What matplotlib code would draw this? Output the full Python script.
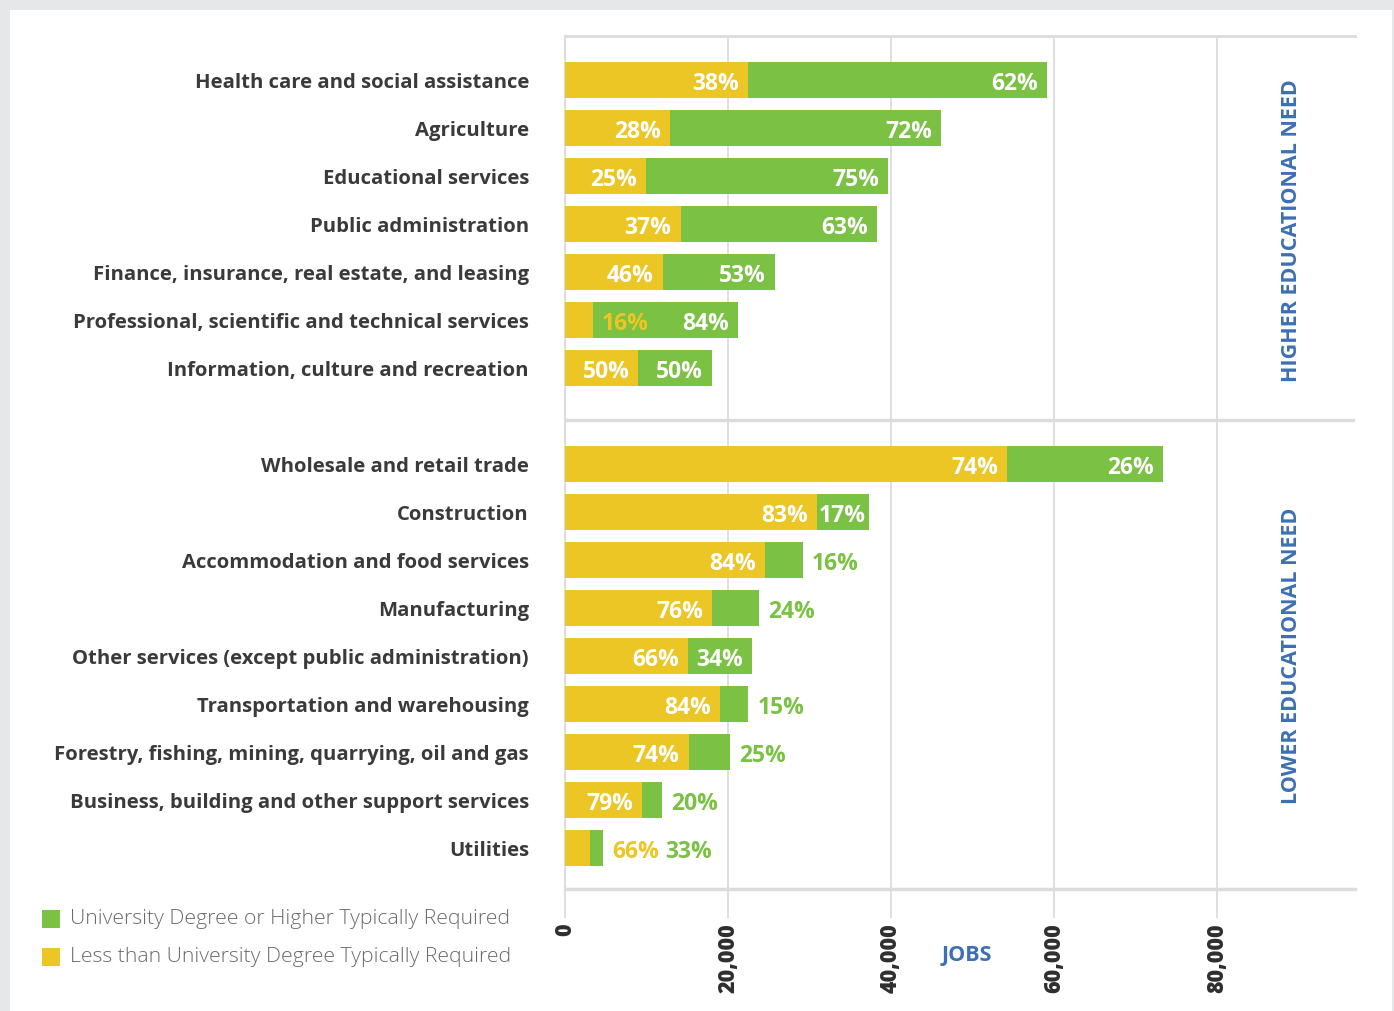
import numpy as np
import matplotlib
matplotlib.use("Agg")
import matplotlib.pyplot as plt
from matplotlib.patches import Rectangle
import matplotlib.transforms as mtransforms

plt.rcParams['font.family'] = ['Open Sans', 'DejaVu Sans']

# industries, top group = higher educational need, bottom group = lower
higher = ['Health care and social assistance', 'Agriculture', 'Educational services',
          'Public administration', 'Finance, insurance, real estate, and leasing',
          'Professional, scientific and technical services',
          'Information, culture and recreation']
lower = ['Wholesale and retail trade', 'Construction', 'Accommodation and food services',
         'Manufacturing', 'Other services (except public administration)',
         'Transportation and warehousing',
         'Forestry, fishing, mining, quarrying, oil and gas',
         'Business, building and other support services', 'Utilities']

# total jobs per industry
jobs_higher = [59150, 46100, 39600, 38300, 26000, 21200, 18000]
jobs_lower = [73300, 37300, 29200, 23800, 22900, 22700, 20500, 12000, 4700]

# share of jobs: less than university degree / university degree or higher
pct_low_higher = [38, 28, 25, 37, 46, 16, 50]
pct_high_higher = [62, 72, 75, 63, 53, 84, 50]
pct_low_lower = [74, 83, 84, 76, 66, 84, 74, 79, 66]
pct_high_lower = [26, 17, 16, 24, 34, 15, 25, 20, 33]

xticks = [0, 20000, 40000, 60000, 80000]

YELLOW = '#ecc625'
GREEN = '#7bc143'
BLUE = '#3d6fb4'
DARK = '#3a3a3a'
GRID = '#d9d9d9'

categories = higher + lower
jobs = np.array(jobs_higher + jobs_lower, dtype=float)
p_low = np.array(pct_low_higher + pct_low_lower)
p_high = np.array(pct_high_higher + pct_high_lower)
ypos = np.array(list(range(len(higher))) + list(range(len(higher) + 1, len(higher) + 1 + len(lower))))

low = jobs * p_low / 100
high = jobs * p_high / 100

# how each label sits: 'in' = white, right aligned inside the segment
low_mode = ['in'] * len(categories)
high_mode = ['in'] * len(categories)
low_mode[5] = 'over'
high_mode[8] = 'start'
for i in [9, 10, 12, 13, 14]:
    high_mode[i] = 'out'
low_mode[15] = 'out'
high_mode[15] = 'after'

fig = plt.figure(figsize=(13.94, 10.11), dpi=100, facecolor='#e6e7e9')
fig.patches.append(Rectangle((10 / 1394, 0), 1382 / 1394, 1 - 10 / 1011,
                             transform=fig.transFigure, facecolor='white',
                             edgecolor='none', zorder=-5))

ax = fig.add_axes([565 / 1394, 1 - 889 / 1011, 790 / 1394, 853 / 1011])
ax.set_facecolor('none')

ax.barh(ypos, low, height=0.75, color=YELLOW, zorder=3)
ax.barh(ypos, high, left=low, height=0.75, color=GREEN, zorder=3)

ax.set_xlim(0, 96900)
ax.set_ylim(16.854, -0.917)

lab = dict(fontsize=16.5, fontweight='bold', va='center_baseline', zorder=5)
pad = 6.5
dy = -0.5
for i, y in enumerate(ypos):
    lo_txt = f'{p_low[i]}%'
    hi_txt = f'{p_high[i]}%'
    end_lo = low[i]
    end_hi = low[i] + high[i]
    m = low_mode[i]
    if m == 'in':
        ax.annotate(lo_txt, (end_lo, y), xytext=(-pad, dy), textcoords='offset points',
                    color='white', ha='right', **lab)
    elif m == 'over':
        ax.annotate(lo_txt, (end_lo, y), xytext=(pad, dy), textcoords='offset points',
                    color=YELLOW, ha='left', **lab)
    elif m == 'out':
        ax.annotate(lo_txt, (end_hi, y), xytext=(pad, dy), textcoords='offset points',
                    color=YELLOW, ha='left', **lab)
    m = high_mode[i]
    if m == 'in':
        ax.annotate(hi_txt, (end_hi, y), xytext=(-pad, dy), textcoords='offset points',
                    color='white', ha='right', **lab)
    elif m == 'start':
        ax.annotate(hi_txt, (end_lo, y), xytext=(1.2, dy), textcoords='offset points',
                    color='white', ha='left', **lab)
    elif m == 'out':
        ax.annotate(hi_txt, (end_hi, y), xytext=(pad, dy), textcoords='offset points',
                    color=GREEN, ha='left', **lab)
    elif m == 'after':
        ax.annotate(hi_txt, (end_hi, y), xytext=(44.5, dy), textcoords='offset points',
                    color=GREEN, ha='left', **lab)

# category names
ax.set_yticks(ypos)
ax.set_yticklabels(categories, fontsize=14.6, fontweight='bold', color=DARK)
ax.tick_params(axis='y', length=0, pad=26)

# jobs axis
ax.set_xticks(xticks)
ax.set_xticklabels([f'{v:,}' for v in xticks], rotation=90, fontsize=15.5,
                   fontweight='heavy', color='#2e2e2e', va='top')
ax.tick_params(axis='x', length=21, width=1.2, color=GRID, pad=4)
ax.xaxis.grid(True, color=GRID, lw=1.2, zorder=0)
ax.set_axisbelow(True)

ax.spines['right'].set_visible(False)
ax.spines['left'].set_color(GRID)
ax.spines['left'].set_linewidth(1.2)
ax.spines['top'].set_color('#dcdcdc')
ax.spines['top'].set_linewidth(2)
ax.spines['bottom'].set_color('#dcdcdc')
ax.spines['bottom'].set_linewidth(2.5)
ax.axhline(len(higher) + 0.08, color='#dcdcdc', lw=2.5, zorder=1)

# group labels on the right
trans = mtransforms.blended_transform_factory(ax.transAxes, ax.transData)
ax.text(0.92, 3.13, 'HIGHER EDUCATIONAL NEED', transform=trans, rotation=90,
        ha='center', va='center', fontsize=15.5, fontweight='bold', color=BLUE)
ax.text(0.92, 12.0, 'LOWER EDUCATIONAL NEED', transform=trans, rotation=90,
        ha='center', va='center', fontsize=15.5, fontweight='bold', color=BLUE)

fig.text(967 / 1394, 1 - 955 / 1011, 'JOBS', ha='center', va='center',
         fontsize=15.5, fontweight='bold', color=BLUE)

# legend
legend_items = [('University Degree or Higher Typically Required', GREEN),
                ('Less than University Degree Typically Required', YELLOW)]
for k, (name, col) in enumerate(legend_items):
    yc = 919 + 38 * k
    fig.patches.append(Rectangle((42 / 1394, 1 - (yc + 9) / 1011), 18 / 1394, 18 / 1011,
                                 transform=fig.transFigure, facecolor=col,
                                 edgecolor='none'))
    fig.text(70 / 1394, 1 - yc / 1011, name, ha='left', va='center', fontsize=15.3,
             fontweight='light', color='#6a6a6a')

fig.savefig('out.png', dpi=100, facecolor=fig.get_facecolor())
